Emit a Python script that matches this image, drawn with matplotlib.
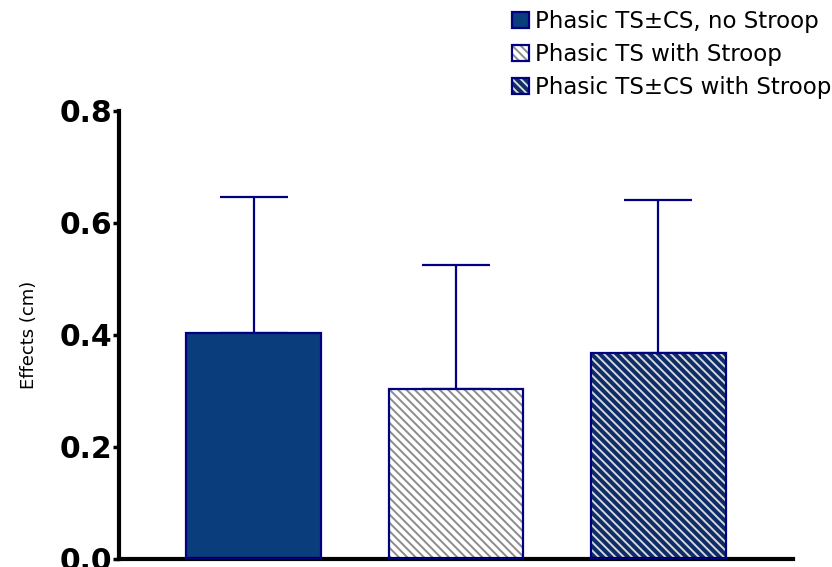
import matplotlib.pyplot as plt
from matplotlib.patches import Patch
from matplotlib.legend_handler import HandlerTuple

plt.rcParams['font.family'] = ['DejaVu Sans']

labels = ['Phasic TS\u00b1CS, no Stroop', 'Phasic TS with Stroop', 'Phasic TS\u00b1CS with Stroop']
means = [0.404, 0.304, 0.368]
upper_err = [0.242, 0.221, 0.273]

fills = ['#0a3d7b', 'white', '#0d2c68']
hatches = [None, '\\\\\\\\', '\\\\\\\\']
hatch_colors = ['#0a3d7b', '#8c8c8c', '#d8d8d8']
edge = '#000080'

plt.rcParams['hatch.linewidth'] = 1.4

fig = plt.figure(figsize=(8.32, 5.67), dpi=100)
ax = fig.add_axes([119 / 832, 8 / 567, (793 - 119) / 832, (559 - 111) / 567])

x = list(range(len(means)))
width = 0.668
# hatch layer (hatch colour comes from edgecolor), then the navy outline on top
for xi, m, f, h, hc in zip(x, means, fills, hatches, hatch_colors):
    ax.bar(xi, m, width, color=f, edgecolor=hc, hatch=h, linewidth=0, zorder=2)
ax.bar(x, means, width, fill=False, edgecolor=edge, linewidth=1.6, zorder=3)
ax.errorbar(x, means, yerr=[[0] * 3, upper_err], fmt='none', ecolor=edge,
            elinewidth=1.6, capsize=24.5, capthick=1.6, zorder=1)

ax.set_xlim(-0.668, 2.668)
ax.set_ylim(0, 0.8)
ax.set_yticks([0.0, 0.2, 0.4, 0.6, 0.8])
ax.set_yticklabels(['0.0', '0.2', '0.4', '0.6', '0.8'])
ax.set_xticks([])
ax.tick_params(axis='y', direction='out', length=4, width=2.5, pad=1,
               labelsize=21.5)
for t in ax.get_yticklabels():
    t.set_fontweight('bold')
ax.set_ylabel('Effects (cm)', fontsize=13, labelpad=15)
for s in ['top', 'right']:
    ax.spines[s].set_visible(False)
ax.spines['left'].set_linewidth(3)
ax.spines['bottom'].set_linewidth(3)

handles = []
for f, h, hc in zip(fills, hatches, hatch_colors):
    inner = Patch(facecolor=f, edgecolor=hc, hatch=h, linewidth=0)
    outer = Patch(facecolor='none', edgecolor=edge, linewidth=1.6)
    handles.append((inner, outer))

fig.legend(handles, labels, loc='upper right', bbox_to_anchor=(831 / 832, 1 - 10 / 567),
           frameon=False, fontsize=16.5, handlelength=0.72, handleheight=0.72,
           handletextpad=0.25, labelspacing=0.43, borderpad=0.0, borderaxespad=0.0,
           handler_map={tuple: HandlerTuple(ndivide=1, pad=0)})

fig.savefig('out.png', dpi=100)
